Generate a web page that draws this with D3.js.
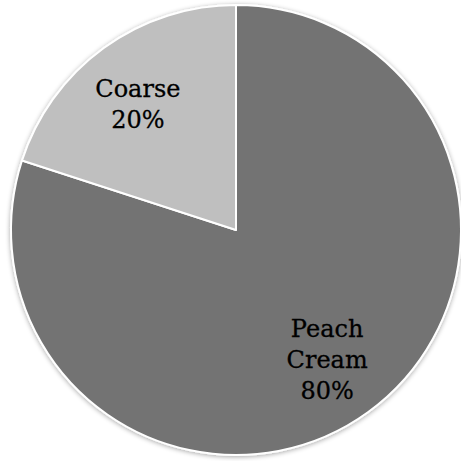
<!DOCTYPE html>
<html><head><meta charset="utf-8">
<script src="https://cdn.jsdelivr.net/npm/d3@7"></script>
<style>html,body{margin:0;padding:0;background:#fff;}</style>
</head><body>
<script>
const categories = ["Peach Cream", "Coarse"];
const values = [80, 20];
const labelLines = [["Peach", "Cream", "80%"], ["Coarse", "20%"]];
const colors = ["#737373", "#bfbfbf"];

const W = 461, H = 461, cx = 236, cy = 230, R = 225;
const svg = d3.select("body").append("svg").attr("width", W).attr("height", H);
const defs = svg.append("defs");
const f = defs.append("filter").attr("id", "sh").attr("x", "-10%").attr("y", "-10%").attr("width", "120%").attr("height", "120%");
f.append("feGaussianBlur").attr("in", "SourceAlpha").attr("stdDeviation", 2.5).attr("result", "b");
f.append("feOffset").attr("in", "b").attr("dx", 0).attr("dy", 1).attr("result", "o");
f.append("feComponentTransfer").attr("in", "o").attr("result", "o2").append("feFuncA").attr("type", "linear").attr("slope", 0.35);
const m = f.append("feMerge");
m.append("feMergeNode").attr("in", "o2");
m.append("feMergeNode").attr("in", "SourceGraphic");

const g = svg.append("g").attr("transform", `translate(${cx},${cy})`);
const pie = d3.pie().sort(null).value(d => d)(values);
const arc = d3.arc().innerRadius(0).outerRadius(R);
g.append("g").attr("filter", "url(#sh)").selectAll("path").data(pie).join("path")
  .attr("d", arc).attr("fill", (d, i) => colors[i])
  .attr("stroke", "#fff").attr("stroke-width", 2).attr("stroke-linejoin", "round");

const labelRadii = [155, 167];
const labelDy = [13, 18];
const lh = 31;
pie.forEach((d, i) => {
  const a = (d.startAngle + d.endAngle) / 2;
  const r = labelRadii[i];
  const x = r * Math.sin(a), y = -r * Math.cos(a);
  const lines = labelLines[i];
  const t = g.append("text").attr("text-anchor", "middle")
    .attr("font-family", "'DejaVu Serif', serif").attr("font-size", 24).attr("fill", "#000")
    .attr("stroke", "#000").attr("stroke-width", 0.3);
  lines.forEach((s, j) => {
    t.append("tspan").attr("x", x).attr("y", y + (j - (lines.length - 1) / 2) * lh + labelDy[i]).text(s);
  });
});
</script>
</body></html>
